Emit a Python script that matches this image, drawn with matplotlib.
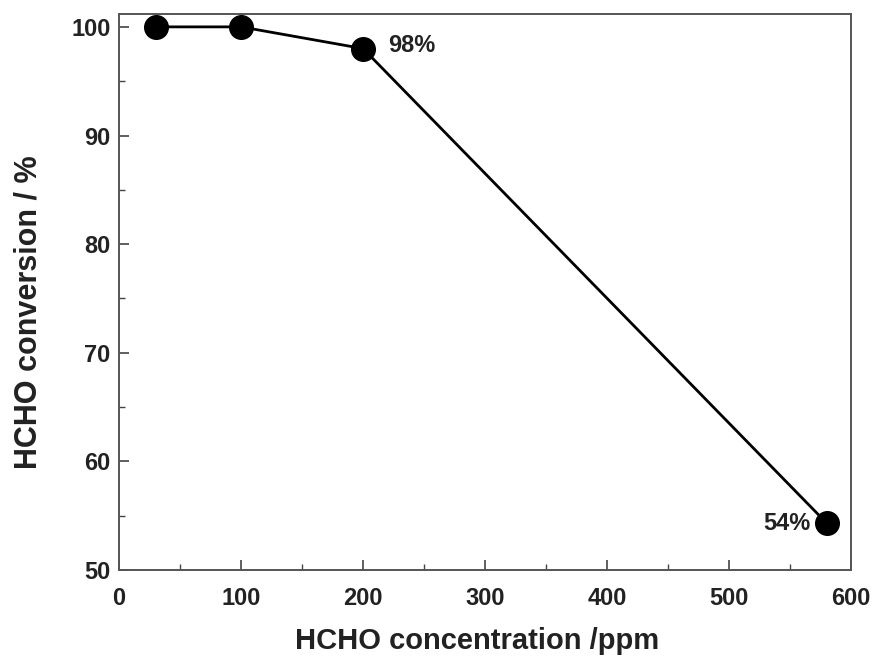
import matplotlib
matplotlib.use("Agg")
import matplotlib.pyplot as plt
from matplotlib.ticker import MultipleLocator

conc = [30, 100, 200, 580]
conversion = [100, 100, 98, 54.3]
labels = {2: "98%", 3: "54%"}

plt.rcParams['font.family'] = ['Liberation Sans', 'DejaVu Sans']
plt.rcParams['font.weight'] = 'bold'

fig = plt.figure(figsize=(8.84, 6.59), dpi=100)
ax = fig.add_axes([0.1346, 0.135, 0.963 - 0.1346, 0.979 - 0.135])

ax.plot(conc, conversion, color='black', lw=2.0, marker='o', markersize=17,
        markerfacecolor='black', markeredgecolor='black')

ax.annotate(labels[2], (conc[2], conversion[2]), xytext=(18, 2), textcoords='offset points',
            ha='left', va='center', fontsize=17, fontweight='bold', color='#222222')
ax.annotate(labels[3], (conc[3], conversion[3]), xytext=(-12, 0), textcoords='offset points',
            ha='right', va='center', fontsize=17, fontweight='bold', color='#222222')

ax.set_xlim(0, 600)
ax.set_ylim(50, 101.2)
ax.xaxis.set_major_locator(MultipleLocator(100))
ax.xaxis.set_minor_locator(MultipleLocator(50))
ax.yaxis.set_major_locator(MultipleLocator(10))
ax.yaxis.set_minor_locator(MultipleLocator(5))
ax.tick_params(which='both', direction='in', color='#444444')
ax.tick_params(which='major', length=7, width=1.2, labelsize=17, labelcolor='#222222')
ax.tick_params(axis='x', which='major', pad=12)
ax.tick_params(axis='y', which='major', pad=6)
ax.tick_params(which='minor', length=4, width=1.0)
for lab in ax.get_xticklabels() + ax.get_yticklabels():
    lab.set_fontweight('bold')
for s in ax.spines.values():
    s.set_color('#555555')
    s.set_linewidth(1.4)

ax.set_xlabel("HCHO concentration /ppm", fontsize=21, fontweight='bold', color='#222222')
ax.set_ylabel("HCHO conversion / %", fontsize=22, fontweight='bold', color='#222222')
ax.xaxis.label.set_va('center')
ax.yaxis.label.set_va('center')
ax.xaxis.set_label_coords(0.489, -0.128)
ax.yaxis.set_label_coords(-0.124, 0.464)

fig.savefig("out.png", dpi=100)
